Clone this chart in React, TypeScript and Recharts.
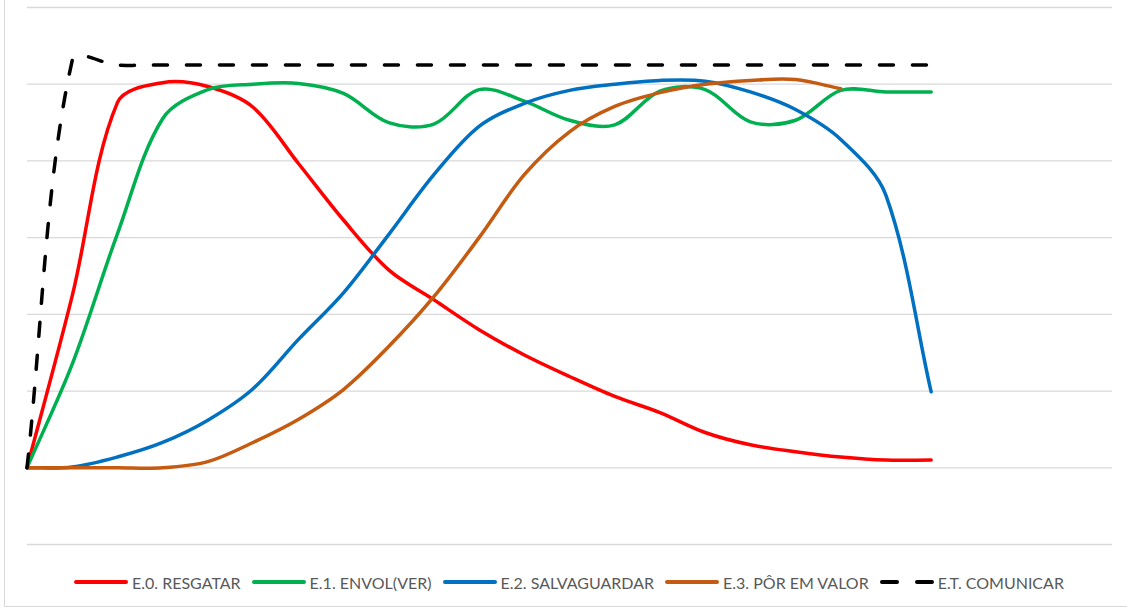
import { LineChart, Line, XAxis, YAxis, CartesianGrid } from "recharts";

const CATEGORIES = ["0", "1", "2", "3", "4", "5", "6", "7", "8", "9", "10", "11", "12", "13", "14", "15", "16", "17", "18", "19", "20", "21", "22", "23", "24"];

const RESGATAR = [0, 2.24, 4.76, 5.02, 4.97, 4.7, 3.97, 3.23, 2.58, 2.19, 1.8, 1.47, 1.19, 0.93, 0.72, 0.46, 0.3, 0.21, 0.14, 0.1, 0.1];
const ENVOLVER = [0, 1.35, 3.05, 4.55, 4.93, 5.0, 5.01, 4.88, 4.5, 4.48, 4.93, 4.78, 4.53, 4.47, 4.91, 4.93, 4.51, 4.53, 4.92, 4.9, 4.9];
const SALVAGUARDAR = [0, 0.01, 0.14, 0.33, 0.62, 1.03, 1.67, 2.28, 3.04, 3.82, 4.45, 4.75, 4.92, 5.0, 5.05, 5.04, 4.9, 4.67, 4.28, 3.55, 0.99];
const POR_EM_VALOR = [0, 0, 0, 0, 0.08, 0.33, 0.63, 1.02, 1.58, 2.23, 3.0, 3.82, 4.38, 4.71, 4.89, 5.0, 5.05, 5.06, 4.94];
const COMUNICAR = [0, 5.31, 5.25, 5.25, 5.25, 5.25, 5.25, 5.25, 5.25, 5.25, 5.25, 5.25, 5.25, 5.25, 5.25, 5.25, 5.25, 5.25, 5.25, 5.25, 5.25];

const Y_TICKS = [-1, 0, 1, 2, 3, 4, 5, 6];

const SERIES = [
  { key: "r", name: "E.0. RESGATAR", values: RESGATAR, color: "#FF0000", dashed: false },
  { key: "g", name: "E.1. ENVOL(VER)", values: ENVOLVER, color: "#00B050", dashed: false },
  { key: "b", name: "E.2. SALVAGUARDAR", values: SALVAGUARDAR, color: "#0070C0", dashed: false },
  { key: "o", name: "E.3. PÔR EM VALOR", values: POR_EM_VALOR, color: "#C55A11", dashed: false },
  { key: "k", name: "E.T. COMUNICAR", values: COMUNICAR, color: "#000000", dashed: true },
];

const data = CATEGORIES.map((c, i) => {
  const row: Record<string, any> = { name: c };
  SERIES.forEach((s) => {
    row[s.key] = i < s.values.length ? s.values[i] : null;
  });
  return row;
});

// office-style smoothing: bezier, tangents scaled by neighbouring segment lengths
function officeSmooth(context: any) {
  let xs: number[] = [];
  let ys: number[] = [];
  return {
    areaStart() {},
    areaEnd() {},
    lineStart() {
      xs = [];
      ys = [];
    },
    point(x: number, y: number) {
      xs.push(+x);
      ys.push(+y);
    },
    lineEnd() {
      const n = xs.length;
      if (!n) return;
      context.moveTo(xs[0], ys[0]);
      if (n === 1) return;
      if (n === 2) {
        context.lineTo(xs[1], ys[1]);
        return;
      }
      const d: number[] = [];
      for (let i = 0; i < n - 1; i++) d.push(Math.hypot(xs[i + 1] - xs[i], ys[i + 1] - ys[i]) || 1e-6);
      for (let i = 0; i < n - 1; i++) {
        let c1x, c1y, c2x, c2y;
        if (i === 0) {
          c1x = xs[0] + (xs[1] - xs[0]) / 3;
          c1y = ys[0] + (ys[1] - ys[0]) / 3;
        } else {
          const f = d[i] / (d[i - 1] + d[i]) / 3;
          c1x = xs[i] + (xs[i + 1] - xs[i - 1]) * f;
          c1y = ys[i] + (ys[i + 1] - ys[i - 1]) * f;
        }
        if (i === n - 2) {
          c2x = xs[i + 1] - (xs[i + 1] - xs[i]) / 3;
          c2y = ys[i + 1] - (ys[i + 1] - ys[i]) / 3;
        } else {
          const f = d[i] / (d[i] + d[i + 1]) / 3;
          c2x = xs[i + 1] - (xs[i + 2] - xs[i]) * f;
          c2y = ys[i + 1] - (ys[i + 2] - ys[i]) * f;
        }
        context.bezierCurveTo(c1x, c1y, c2x, c2y, xs[i + 1], ys[i + 1]);
      }
    },
  };
}

export default function App() {
  return (
    <div
      style={{
        position: "absolute",
        left: 0,
        top: 0,
        width: 1127,
        height: 608,
        overflow: "hidden",
        background: "#fff",
        fontFamily: "Lato, 'Open Sans', sans-serif",
      }}
    >
      <div
        style={{
          position: "absolute",
          left: 4,
          top: -2,
          width: 1140,
          height: 609,
          boxSizing: "border-box",
          border: "1px solid #d9d9d9",
        }}
      />
      <div style={{ position: "absolute", left: 0, top: 0 }}>
        <LineChart width={1127} height={608} data={data} margin={{ top: 7.5, right: 15, bottom: 63.5, left: 27 }}>
          <CartesianGrid vertical={false} stroke="#d9d9d9" strokeWidth={1.3} />
          <XAxis dataKey="name" hide />
          <YAxis hide domain={[-1, 6]} ticks={Y_TICKS} type="number" />
          {SERIES.map((s) => (
            <Line
              key={s.key}
              dataKey={s.key}
              name={s.name}
              type={officeSmooth as any}
              stroke={s.color}
              strokeWidth={3.5}
              strokeDasharray={s.dashed ? "14 19" : undefined}
              strokeLinecap="round"
              dot={false}
              activeDot={false}
              isAnimationActive={false}
            />
          ))}
        </LineChart>
      </div>
      <div
        style={{
          position: "absolute",
          left: 74,
          top: 571,
          height: 22,
          display: "flex",
          alignItems: "center",
          fontSize: 16,
          color: "#595959",
          whiteSpace: "nowrap",
        }}
      >
        {SERIES.map((s) => (
          <div key={s.key} style={{ display: "flex", alignItems: "center", marginRight: 11 }}>
            <svg width={54} height={8}>
              <line
                x1={2}
                y1={4}
                x2={52}
                y2={4}
                stroke={s.color}
                strokeWidth={4}
                strokeLinecap="round"
                strokeDasharray={s.dashed ? "15 20" : undefined}
              />
            </svg>
            <span style={{ marginLeft: 4 }}>{s.name}</span>
          </div>
        ))}
      </div>
    </div>
  );
}
